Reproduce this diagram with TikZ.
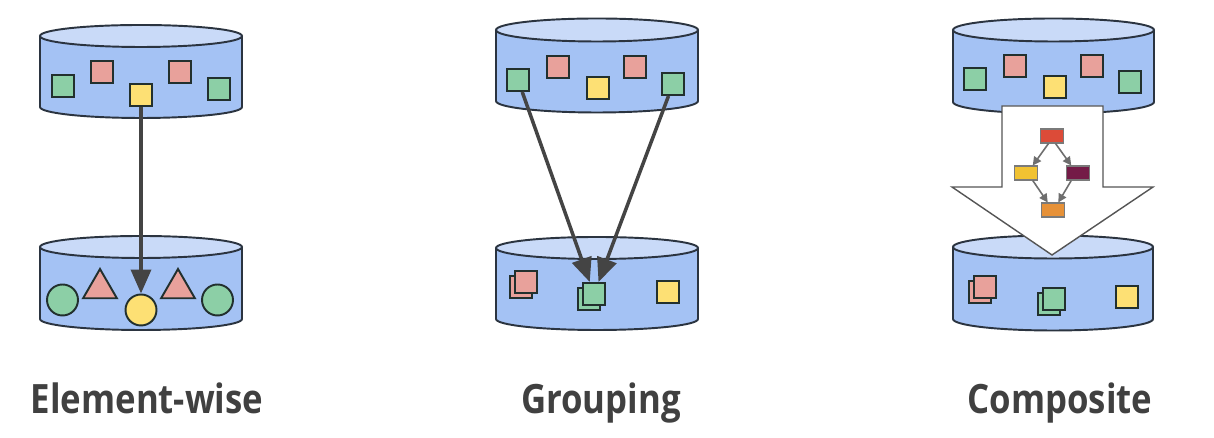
\documentclass[tikz,border=0pt]{standalone}
\usepackage{fontspec}
\setmainfont{Open Sans}
\newfontfamily\capfont[FakeStretch=0.86]{Open Sans}
\usetikzlibrary{arrows.meta,shapes.geometric}

\definecolor{cylside}{HTML}{A4C2F4}
\definecolor{cyltop}{HTML}{C9DAF8}
\definecolor{cylborder}{HTML}{2B3440}
\definecolor{itemborder}{HTML}{22302E}
\definecolor{sqgreen}{HTML}{8CCFA6}
\definecolor{sqpink}{HTML}{E8A19B}
\definecolor{sqyellow}{HTML}{FDE074}
\definecolor{flowgray}{HTML}{444444}
\definecolor{labelgray}{HTML}{404040}
\definecolor{taskred}{HTML}{DC4B38}
\definecolor{taskyellow}{HTML}{F1C232}
\definecolor{taskmaroon}{HTML}{741B47}
\definecolor{taskorange}{HTML}{E69138}
\definecolor{taskborder}{HTML}{7A7A7A}
\definecolor{depgray}{HTML}{6E6E6E}
\definecolor{bigarrow}{HTML}{555555}

\tikzset{
  cylline/.style={draw=cylborder, line width=1.1pt},
  item/.style={draw=itemborder, line width=1.1pt, inner sep=0pt},
  sq/.style={item, rectangle, minimum size=0.44cm},
  dot/.style={item, circle, minimum size=0.62cm},
  tri/.style={item, regular polygon, regular polygon sides=3, minimum size=0.78cm},
  flow/.style={draw=flowgray, line width=2pt, -{Triangle[width=0.4cm,length=0.48cm]}},
  task/.style={draw=taskborder, line width=0.6pt, rectangle, minimum width=0.46cm, minimum height=0.28cm, inner sep=0pt},
  dep/.style={draw=depgray, line width=0.9pt, -{Triangle[width=0.17cm,length=0.17cm]}},
  caption/.style={text=labelgray, font=\capfont\bfseries\fontsize{23}{28}\selectfont, anchor=base}
}

% cylinder: centre x, top y, bottom y, x radius, y radius
\newcommand{\dbcyl}[5]{%
  \fill[cylside] ({#1-#4},#2) -- ({#1-#4},#3) arc[start angle=180, end angle=360, x radius=#4, y radius=#5] -- ({#1+#4},#2) -- cycle;
  \draw[cylline] ({#1-#4},#2) -- ({#1-#4},#3) arc[start angle=180, end angle=360, x radius=#4, y radius=#5] -- ({#1+#4},#2);
  \filldraw[cylline, fill=cyltop] (#1,#2) ellipse[x radius=#4, y radius=#5];
}

\begin{document}
\begin{tikzpicture}[x=0.02cm, y=0.02cm]
\useasboundingbox (0,0) rectangle (1214,438);

% element-wise
\dbcyl{141}{402}{331}{101}{11}
\dbcyl{141}{191}{119}{101}{11}
\node[sq, fill=sqgreen]  (ea) at (63,352)  {};
\node[sq, fill=sqpink]   (eb) at (102,366) {};
\node[sq, fill=sqyellow] (ec) at (141,343) {};
\node[sq, fill=sqpink]   (ed) at (180,366) {};
\node[sq, fill=sqgreen]  (ee) at (219,349) {};
\node[dot, fill=sqgreen]  (oa) at (62.5,138) {};
\node[tri, fill=sqpink]   (ob) at (100,149.5) {};
\node[dot, fill=sqyellow] (oc) at (141,128) {};
\node[tri, fill=sqpink]   (od) at (178,149.5) {};
\node[dot, fill=sqgreen]  (oe) at (217.5,138) {};
\draw[flow] (ec) -- (oc);
\node[caption] (ecap) at (147,24) {Element-wise};

% grouping
\dbcyl{597}{408}{337}{101}{11.5}
\dbcyl{597}{190}{119}{101}{11}
\node[sq, fill=sqgreen]  (ga) at (518,358) {};
\node[sq, fill=sqpink]   (gb) at (558,371) {};
\node[sq, fill=sqyellow] (gc) at (598,350) {};
\node[sq, fill=sqpink]   (gd) at (635,371) {};
\node[sq, fill=sqgreen]  (ge) at (673,354) {};
\node[sq, fill=sqpink]   (hb1) at (521,151) {};
\node[sq, fill=sqpink]   (hb)  at (526,156) {};
\node[sq, fill=sqgreen]  (hg1) at (589,139) {};
\node[sq, fill=sqgreen]  (hg)  at (594,144) {};
\node[sq, fill=sqyellow] (hy)  at (668,146) {};
\draw[flow] (ga) -- (hg);
\draw[flow] (ge) -- (hg);
\node[caption] (gcap) at (601,24) {Grouping};

% composite
\dbcyl{1053.5}{408}{336}{100.5}{11.5}
\dbcyl{1053}{191}{119}{100}{11.5}
\node[sq, fill=sqgreen]  (ca) at (975,359)  {};
\node[sq, fill=sqpink]   (cb) at (1015,372) {};
\node[sq, fill=sqyellow] (cc) at (1055,351) {};
\node[sq, fill=sqpink]   (cd) at (1092,372) {};
\node[sq, fill=sqgreen]  (ce) at (1130,356) {};
\node[sq, fill=sqpink]   (kb1) at (980,146)  {};
\node[sq, fill=sqpink]   (kb)  at (985,151)  {};
\node[sq, fill=sqgreen]  (kg1) at (1049,134) {};
\node[sq, fill=sqgreen]  (kg)  at (1054,139) {};
\node[sq, fill=sqyellow] (ky)  at (1127,141) {};
\filldraw[draw=bigarrow, fill=white, line width=0.8pt]
  (1002,332) -- (1103,332) -- (1103,251) -- (1153,251) -- (1052,183)
  -- (952,251) -- (1002,251) -- cycle;
\node[task, fill=taskred]    (t1) at (1052,302) {};
\node[task, fill=taskyellow] (t2) at (1026,265) {};
\node[task, fill=taskmaroon] (t3) at (1078,265) {};
\node[task, fill=taskorange] (t4) at (1053,228) {};
\draw[dep] ([xshift=-2]t1.south) -- ([xshift=-3]t2.north east);
\draw[dep] ([xshift=2]t1.south) -- ([xshift=3]t3.north west);
\draw[dep] ([xshift=-3]t2.south east) -- ([xshift=-3]t4.north);
\draw[dep] ([xshift=3]t3.south west) -- ([xshift=3]t4.north);
\node[caption] (ccap) at (1060,24) {Composite};
\end{tikzpicture}
\end{document}
